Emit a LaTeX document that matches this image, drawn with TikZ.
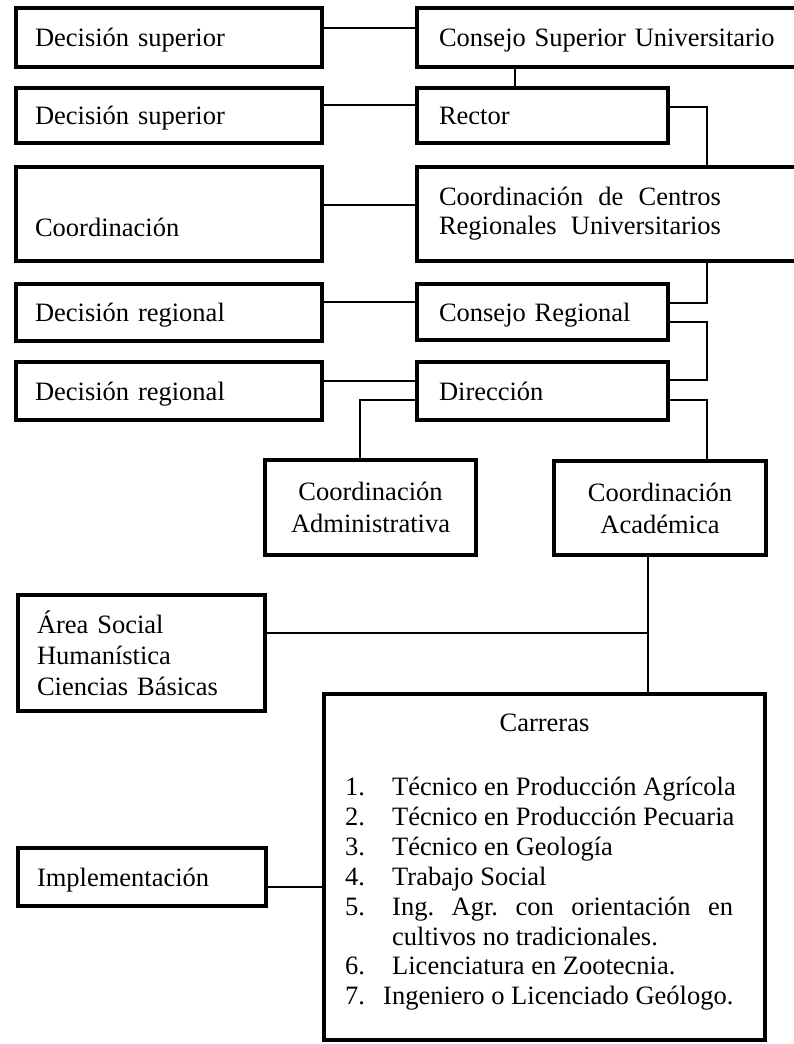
\documentclass[tikz,border=0pt]{standalone}
\usepackage{fontspec}
\setmainfont{Liberation Serif}
\frenchspacing
\newcommand{\bigtxt}{\fontsize{26.5}{30}\selectfont}
\tikzset{
  boxbase/.style={draw, rectangle, line width=3.5pt, inner ysep=0pt, font=\bigtxt},
  lbox/.style={boxbase, align=left, inner xsep=19pt},
  rbox/.style={boxbase, align=left, inner xsep=22pt},
  sl/.style={text depth=0pt},
  cbox/.style={boxbase, align=center, inner xsep=8pt, font=\fontsize{26.5}{32}\selectfont},
  conn/.style={line width=1.8pt},
  thin/.style={line width=1.2pt},
  li/.style={anchor=base west, inner sep=0pt, font=\bigtxt}
}
\begin{document}
\begin{tikzpicture}[x=1pt,y=-1pt]
\useasboundingbox (0,0) rectangle (793,1044);
% left column
\node[lbox, sl, minimum height=59pt, text width=268pt] (lb1) at (169,37.5) {Decisión superior};
\node[lbox, sl, minimum height=55pt, text width=268pt] (lb2) at (169,115.5) {Decisión superior};
\node[lbox, minimum height=94pt, text width=268pt] (lb3) at (169,214) {\raisebox{-13pt}[\height][\depth]{Coordinación}};
\node[lbox, sl, minimum height=57pt, text width=268pt] (lb4) at (169,312.5) {Decisión regional};
\node[lbox, sl, minimum height=58pt, text width=268pt] (lb5) at (169,391) {Decisión regional};
% right column
\node[rbox, sl, minimum height=59pt, text width=337pt] (csu) at (607.5,37.5) {Consejo Superior Universitario};
\node[rbox, sl, minimum height=55pt, text width=207pt] (rector) at (542.5,115.5) {Rector};
\node[rbox, minimum height=94pt, text width=337pt, font=\fontsize{26.5}{29}\selectfont] (ccr) at (607.5,214) {\hbox to 282pt{Coordinación\hfill de\hfill Centros}\\\hbox to 282pt{Regionales\hfill Universitarios}};
\node[rbox, sl, minimum height=56pt, text width=207pt] (creg) at (542.5,312) {Consejo Regional};
\node[rbox, sl, minimum height=58pt, text width=207pt] (dir) at (542.5,391) {Dirección};
% coordination boxes
\node[cbox, minimum height=95pt, text width=195pt] (cadm) at (370.5,507.5) {Coordinación\\Administrativa};
\node[cbox, minimum height=94pt, text width=196pt] (cacad) at (660,508) {Coordinación\\Académica};
% lower left
\node[lbox, minimum height=116pt, text width=209pt, font=\fontsize{26.5}{31}\selectfont] (area) at (141.5,653) {Área Social\\Humanística\\Ciencias Básicas};
\node[lbox, sl, minimum height=58pt, text width=210pt] (impl) at (142,877) {Implementación};
% carreras
\node[boxbase, minimum width=441pt, minimum height=346pt] (carr) at (544.5,867) {};
\node[inner sep=0pt, font=\bigtxt] (ct) at (544.5,723) {Carreras};
\node[li] (i1) at (345,795) {\makebox[47pt][l]{1.}Técnico en Producción Agrícola};
\node[li] (i2) at (345,825) {\makebox[47pt][l]{2.}Técnico en Producción Pecuaria};
\node[li] (i3) at (345,855) {\makebox[47pt][l]{3.}Técnico en Geología};
\node[li] (i4) at (345,885) {\makebox[47pt][l]{4.}Trabajo Social};
\node[li] (i5) at (345,915) {\makebox[47pt][l]{5.}\makebox[341pt][s]{Ing. Agr. con orientación en}};
\node[li] (i5b) at (392,945) {cultivos no tradicionales.};
\node[li] (i6) at (345,974) {\makebox[47pt][l]{6.}Licenciatura en Zootecnia.};
\node[li] (i7) at (345,1004) {\makebox[38pt][l]{7.}Ingeniero o Licenciado Geólogo.};
% connectors left-right
\draw[conn] (lb1.east |- 0,28) -- (csu.west |- 0,28);
\draw[conn] (lb2.east |- 0,105) -- (rector.west |- 0,105);
\draw[conn] (lb3.east |- 0,205) -- (ccr.west |- 0,205);
\draw[conn] (lb4.east |- 0,302) -- (creg.west |- 0,302);
\draw[conn] (lb5.east |- 0,381) -- (dir.west |- 0,381);
% hierarchy
\draw[thin] (csu.south -| 515,0) -- (rector.north -| 515,0);
\draw[thin] (rector.east |- 0,107) -| (ccr.north -| 707,0);
\draw[thin] (ccr.south -| 707,0) |- (creg.east |- 0,303);
\draw[thin] (creg.east |- 0,322) -- (707,322) |- (dir.east |- 0,380);
\draw[thin] (dir.east |- 0,400) -| (cacad.north -| 707,0);
\draw[thin] (dir.west |- 0,400) -| (cadm.north -| 360,0);
\draw[conn] (cacad.south -| 648,0) -- (carr.north -| 648,0);
\coordinate (jn) at (648,633);
\draw[conn] (area.east |- jn) -- (jn);
\draw[conn] (impl.east |- 0,887) -- (carr.west |- 0,887);
\end{tikzpicture}
\end{document}
